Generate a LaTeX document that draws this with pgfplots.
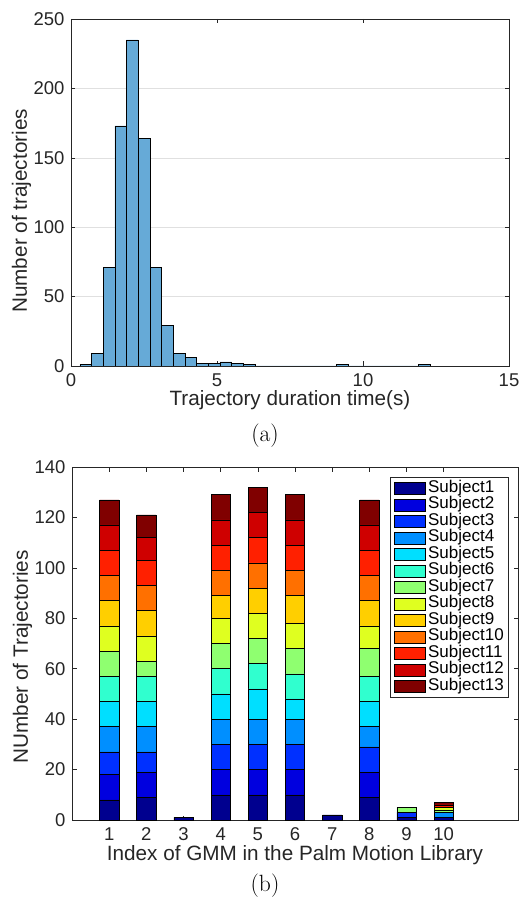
\documentclass[border=0pt]{standalone}
\usepackage{fontspec}
\setmainfont{Liberation Sans}
\usepackage{pgfplots}
\pgfplotsset{compat=1.18}
\definecolor{axgray}{rgb}{0.15,0.15,0.15}
\definecolor{histblue}{rgb}{0.4,0.668,0.845}
\definecolor{gridc}{rgb}{0.88,0.88,0.88}
\definecolor{c1}{rgb}{0,0,0.5625}
\definecolor{c2}{rgb}{0,0,0.875}
\definecolor{c3}{rgb}{0,0.1875,1}
\definecolor{c4}{rgb}{0,0.5625,1}
\definecolor{c5}{rgb}{0,0.875,1}
\definecolor{c6}{rgb}{0.1875,1,0.8125}
\definecolor{c7}{rgb}{0.5625,1,0.4375}
\definecolor{c8}{rgb}{0.875,1,0.125}
\definecolor{c9}{rgb}{1,0.8125,0}
\definecolor{c10}{rgb}{1,0.4375,0}
\definecolor{c11}{rgb}{1,0.125,0}
\definecolor{c12}{rgb}{0.8125,0,0}
\definecolor{c13}{rgb}{0.5,0,0}
\pgfplotstableread{
x s1 s2 s3 s4 s5 s6 s7 s8 s9 s10 s11 s12 s13
1 8 10 9 10 10 10 10 10 10 10 10 10 10
2 9 10 8 10 10 10 6 10 10 10 10 9 9
3 1 0 0 0 0 0 0 0 0 0 0 0 0
4 10 10 10 10 10 10 10 10 9 10 10 10 10
5 10 10 10 10 12 10 10 10 10 10 10 10 10
6 10 10 10 10 8 10 10 10 11 10 10 10 10
7 2 0 0 0 0 0 0 0 0 0 0 0 0
8 9 10 10 8 10 10 11 9 10 10 10 10 10
9 1 0 2 0 0 0 2 0 0 0 0 0 0
10 1 0 0 2 0 0 1 1 0 0 1 0 1
}\gmmdata
\pgfplotsset{
  mstyle/.style={
    axis line style={axgray, line width=0.5pt},
    tick style={axgray, line width=0.5pt},
    major tick length=4.5pt,
    ticklabel style={font=\fontsize{18.5}{20}\selectfont, text=axgray},
    xticklabel style={yshift=-4pt},
    yticklabel style={xshift=-3pt},
    /pgf/number format/assume math mode=true,
  }
}
\begin{document}
\begin{tikzpicture}[x=1pt,y=1pt]
\useasboundingbox (-71,-533) rectangle (449,366);
\begin{axis}[
  mstyle,
  at={(0pt,0pt)}, anchor=south west,
  scale only axis, width=438pt, height=347pt,
  xmin=0, xmax=15, ymin=0, ymax=250,
  xtick={0,5,10,15}, ytick={0,50,...,250},
  ymajorgrids, grid style={gridc, line width=0.5pt},
  xlabel={Trajectory duration time(s)},
  ylabel={Number of trajectories},
  every axis x label/.style={at={(axis description cs:0.5,-0.115)}, anchor=base, font=\fontsize{20.7}{24}\selectfont, text=axgray},
  every axis y label/.style={at={(axis description cs:-0.1005,0.447)}, anchor=base, rotate=90, font=\fontsize{20.7}{24}\selectfont, text=axgray},
]
\addplot[ybar interval, fill=histblue, draw=black, line width=0.5pt] coordinates {
(0.3,1) (0.7,9) (1.1,71) (1.5,173) (1.9,235) (2.3,164) (2.7,71) (3.1,29)
(3.5,9) (3.9,6) (4.3,2) (4.7,2) (5.1,3) (5.5,2) (5.9,1) (6.3,0)
(6.7,0) (7.1,0) (7.5,0) (7.9,0) (8.3,0) (8.7,0) (9.1,1) (9.5,0)
(9.9,0) (10.3,0) (10.7,0) (11.1,0) (11.5,0) (11.9,1) (12.3,0)
};
\end{axis}
\node[anchor=base, font=\fontfamily{lmr}\selectfont\fontsize{23.5}{26}\selectfont] at (194,-75.7) {(a)};
\begin{axis}[
  mstyle,
  at={(1pt,-454pt)}, anchor=south west,
  scale only axis, width=446pt, height=353pt,
  xmin=0, xmax=12, ymin=0, ymax=140,
  xtick={1,...,10}, ytick={0,20,...,140},
  ybar stacked, bar width=0.52,
  xlabel={Index of GMM in the Palm Motion Library},
  ylabel={NUmber of Trajectories},
  every axis x label/.style={at={(axis description cs:0.5,-0.116)}, anchor=base, font=\fontsize{20.7}{24}\selectfont, text=axgray},
  every axis y label/.style={at={(axis description cs:-0.0987,0.462)}, anchor=base, rotate=90, font=\fontsize{20.7}{24}\selectfont, text=axgray},
  legend image code/.code={\draw[#1] (0pt,-6.2pt) rectangle (30.7pt,6.2pt);},
  legend style={at={(axis description cs:0.9776,0.9717)}, anchor=north east,
    draw=axgray, line width=0.5pt, fill=white,
    font=\fontsize{17}{17}\selectfont,
    inner xsep=4pt, inner ysep=3pt, row sep=0pt,
    nodes={inner sep=0pt, text height=12pt, text depth=4.5pt},
    /tikz/every odd column/.style={column sep=2.7pt},
    cells={anchor=west}},
]
\addplot[fill=c1, draw=black, line width=0.5pt] table[x=x, y=s1] {\gmmdata};
\addplot[fill=c2, draw=black, line width=0.5pt] table[x=x, y=s2] {\gmmdata};
\addplot[fill=c3, draw=black, line width=0.5pt] table[x=x, y=s3] {\gmmdata};
\addplot[fill=c4, draw=black, line width=0.5pt] table[x=x, y=s4] {\gmmdata};
\addplot[fill=c5, draw=black, line width=0.5pt] table[x=x, y=s5] {\gmmdata};
\addplot[fill=c6, draw=black, line width=0.5pt] table[x=x, y=s6] {\gmmdata};
\addplot[fill=c7, draw=black, line width=0.5pt] table[x=x, y=s7] {\gmmdata};
\addplot[fill=c8, draw=black, line width=0.5pt] table[x=x, y=s8] {\gmmdata};
\addplot[fill=c9, draw=black, line width=0.5pt] table[x=x, y=s9] {\gmmdata};
\addplot[fill=c10, draw=black, line width=0.5pt] table[x=x, y=s10] {\gmmdata};
\addplot[fill=c11, draw=black, line width=0.5pt] table[x=x, y=s11] {\gmmdata};
\addplot[fill=c12, draw=black, line width=0.5pt] table[x=x, y=s12] {\gmmdata};
\addplot[fill=c13, draw=black, line width=0.5pt] table[x=x, y=s13] {\gmmdata};
\legend{Subject1,Subject2,Subject3,Subject4,Subject5,Subject6,Subject7,Subject8,Subject9,Subject10,Subject11,Subject12,Subject13}
\end{axis}
\node[anchor=base, font=\fontfamily{lmr}\selectfont\fontsize{23.5}{26}\selectfont] at (194,-525.7) {(b)};
\end{tikzpicture}
\end{document}
